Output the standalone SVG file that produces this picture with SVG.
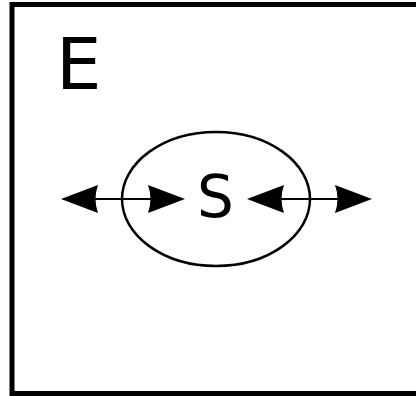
<svg xmlns="http://www.w3.org/2000/svg" width="416" height="396" viewBox="0 0 416 396">
<style>
.lbl{font-family:"DejaVu Sans",sans-serif;fill:#000}
.con{stroke:#000;stroke-width:2;fill:none;marker-start:url(#ah);marker-end:url(#ah)}
</style>
<defs>
<marker id="ah" viewBox="0 0 38 30" refX="33" refY="15" markerWidth="38" markerHeight="30" markerUnits="userSpaceOnUse" orient="auto-start-reverse" overflow="visible">
<path d="M37,15 L0,1 Q5,15 0,29 Z" fill="#000"/>
</marker>
</defs>
<rect width="416" height="396" fill="#fff"/>
<g id="E">
<rect x="12" y="4.5" width="410" height="389" fill="none" stroke="#000" stroke-width="5"/>
<text class="lbl" x="56" y="89" font-size="72">E</text>
</g>
<g id="S">
<ellipse cx="216" cy="199" rx="94" ry="67" fill="none" stroke="#000" stroke-width="2.5"/>
<text class="lbl" x="215.5" y="217" font-size="58" text-anchor="middle">S</text>
</g>
<g id="connectors">
<line class="con" x1="65" y1="199" x2="181" y2="199"/>
<line class="con" x1="251" y1="199" x2="368" y2="199"/>
</g>
</svg>
